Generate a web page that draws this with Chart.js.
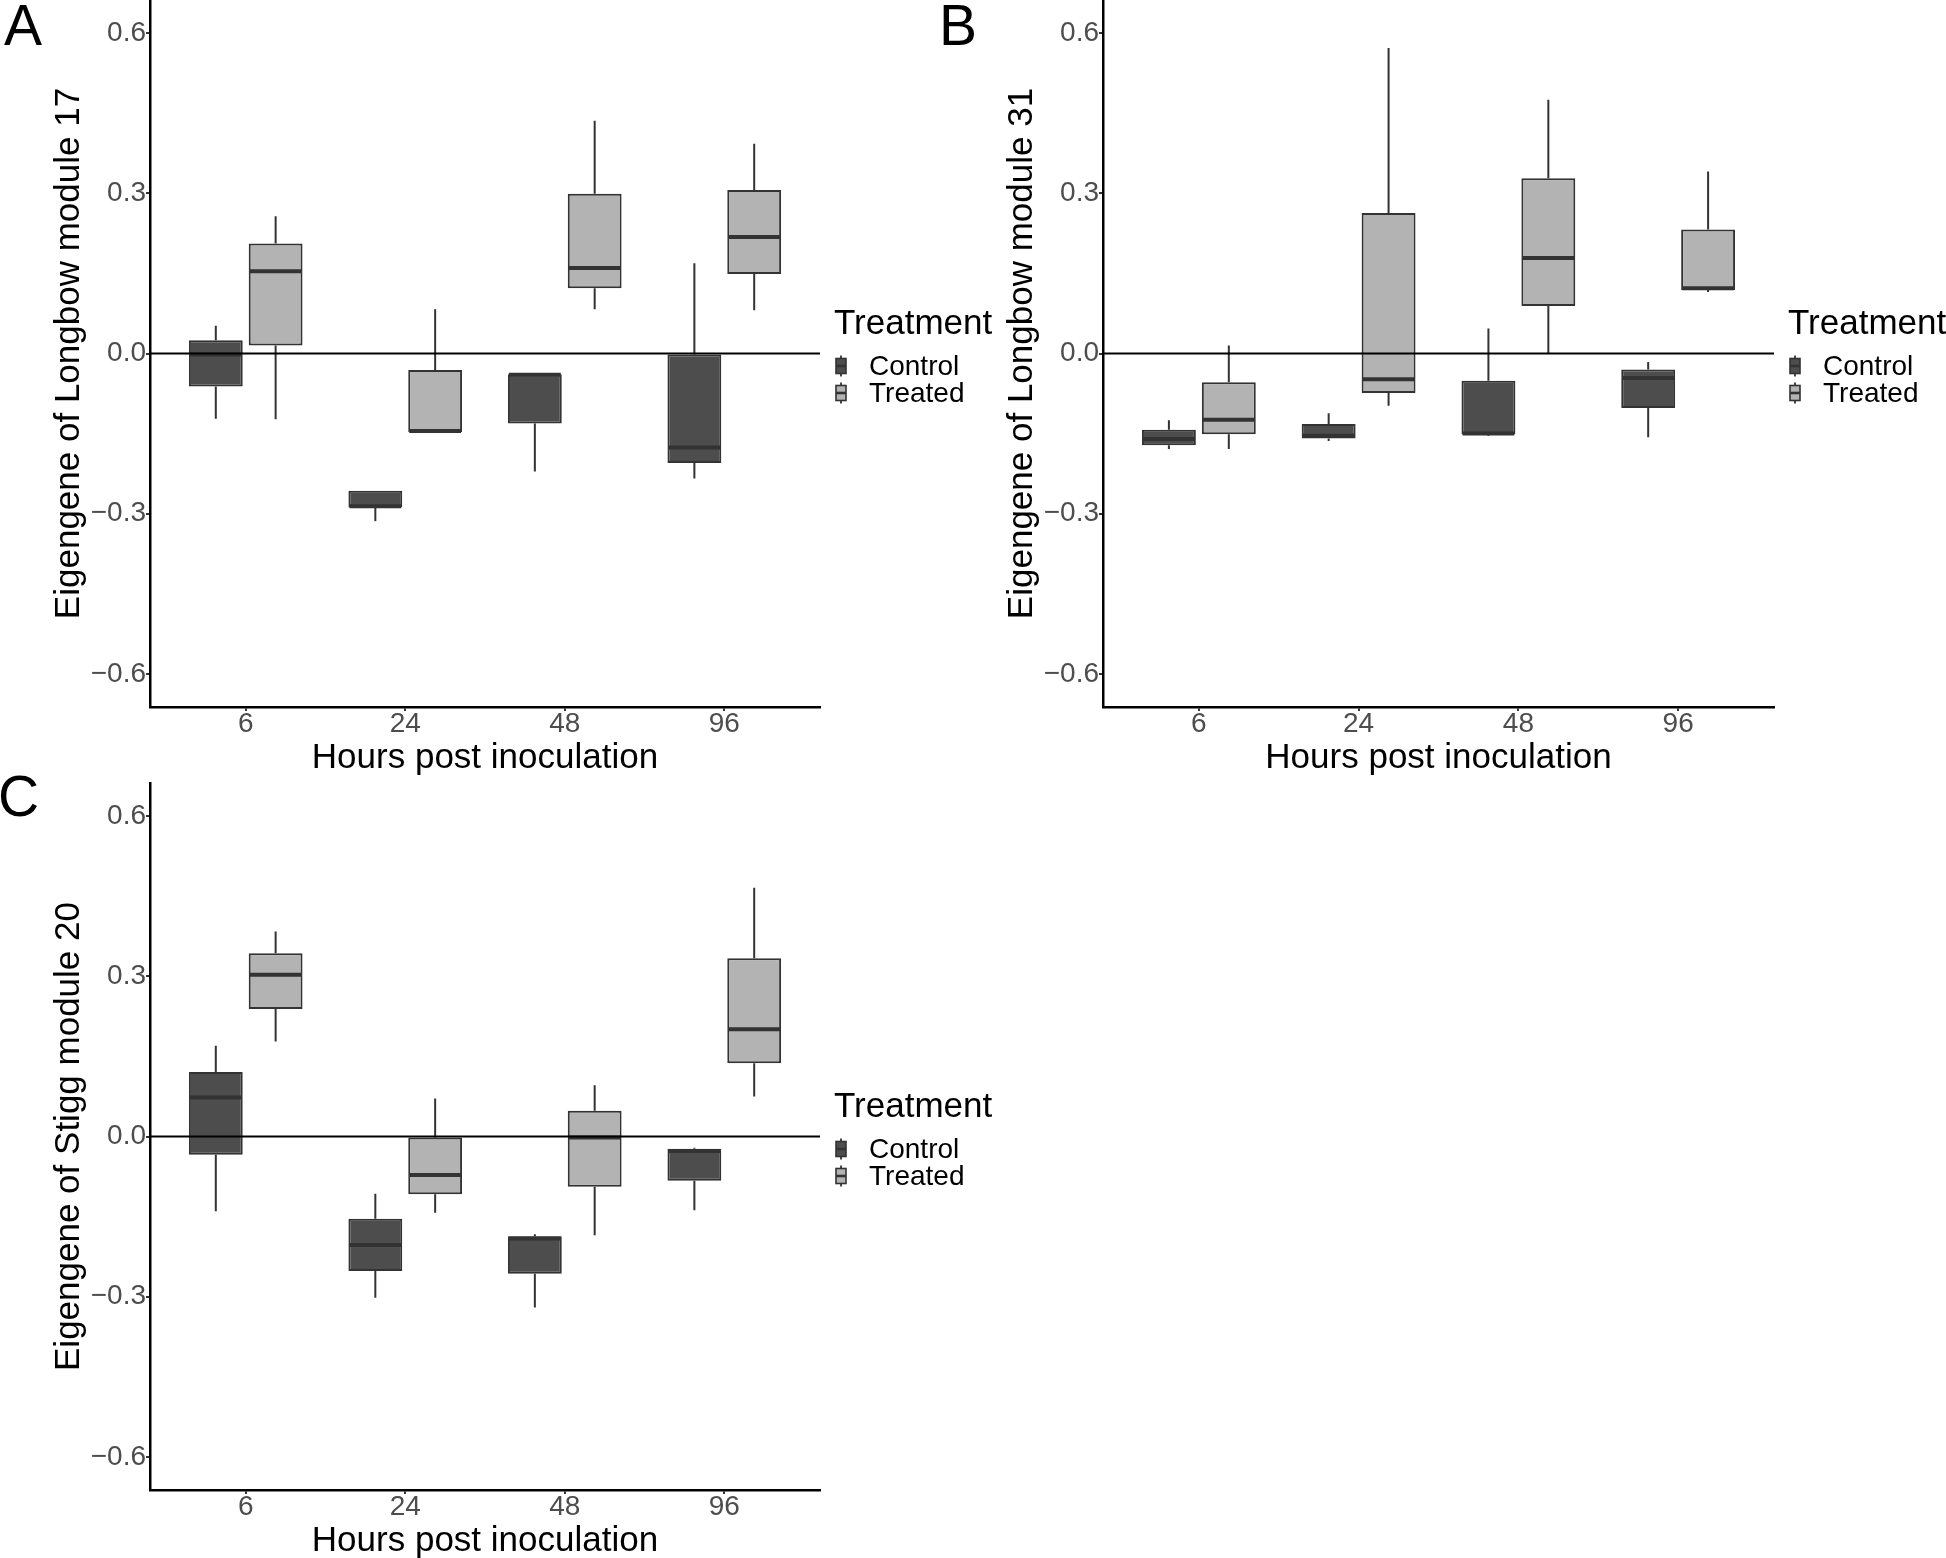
<!DOCTYPE html>
<html>
<head>
<meta charset="utf-8">
<title>Module eigengenes by hours post inoculation</title>
<script src="https://cdn.jsdelivr.net/npm/chart.js"></script>
<style>
    body { margin: 0; padding: 0; background: #fff; }
    #page {
        position: relative;
        width: 1946px;
        height: 1558px;
        background: #fff;
        overflow: hidden;
        font-family: "Liberation Sans", Arial, sans-serif;
        color: #000;
    }
    canvas { position: absolute; }
    .tag { position: absolute; font-size: 57px; line-height: 57px; }
    .leg-title { position: absolute; font-size: 35px; line-height: 35px; white-space: nowrap; }
    .leg-label { position: absolute; font-size: 28px; line-height: 28px; white-space: nowrap; }
    .leg-key { position: absolute; }
</style>
</head>
<body>
<div id="page">
    <canvas id="chartA" width="1000" height="780"></canvas>
    <canvas id="chartB" width="986" height="780"></canvas>
    <canvas id="chartC" width="1000" height="788"></canvas>
    <div class="tag" style="left:4px; top:-3px;">A</div>
    <div class="tag" style="left:939px; top:-3px;">B</div>
    <div class="tag" style="left:-2px; top:768px;">C</div>
</div>

<script>
    // x categories and y ticks
    var hours = ['6', '24', '48', '96'];
    var yTicks = [-0.6, -0.3, 0, 0.3, 0.6];
    var groups = ['Control', 'Treated'];

    // each entry: [lower whisker, Q1, median, Q3, upper whisker]
    var longbow17Control = [
        [-0.122, -0.062, -0.002, 0.025, 0.052],
        [-0.314, -0.288, -0.286, -0.257, -0.257],
        [-0.221, -0.131, -0.040, -0.039, -0.039],
        [-0.234, -0.205, -0.176, -0.002, 0.169]
    ];
    var longbow17Treated = [
        [-0.123, 0.015, 0.154, 0.206, 0.257],
        [-0.147, -0.147, -0.145, -0.031, 0.083],
        [0.083, 0.122, 0.160, 0.299, 0.436],
        [0.081, 0.149, 0.218, 0.306, 0.393]
    ];
    var longbow31Control = [
        [-0.179, -0.172, -0.160, -0.143, -0.125],
        [-0.164, -0.159, -0.154, -0.132, -0.112],
        [-0.154, -0.151, -0.150, -0.051, 0.047],
        [-0.157, -0.102, -0.046, -0.030, -0.016]
    ];
    var longbow31Treated = [
        [-0.179, -0.151, -0.124, -0.054, 0.015],
        [-0.098, -0.074, -0.048, 0.263, 0.572],
        [0.000, 0.089, 0.179, 0.328, 0.475],
        [0.115, 0.119, 0.122, 0.232, 0.341]
    ];
    var stigg20Control = [
        [-0.140, -0.034, 0.073, 0.121, 0.170],
        [-0.302, -0.252, -0.203, -0.154, -0.107],
        [-0.320, -0.257, -0.191, -0.187, -0.183],
        [-0.138, -0.083, -0.027, -0.023, -0.021]
    ];
    var stigg20Treated = [
        [0.178, 0.239, 0.303, 0.343, 0.384],
        [-0.143, -0.108, -0.072, -0.002, 0.071],
        [-0.185, -0.094, -0.002, 0.048, 0.096],
        [0.075, 0.137, 0.201, 0.334, 0.466]
    ];

    var fills = ['#4d4d4d', '#b3b3b3'];
    var outline = '#333333';
    var tickGrey = '#4d4d4d';

    Chart.defaults.font.family = '"Liberation Sans", Arial, sans-serif';

    // whiskers under the boxes, medians and the zero line on top
    var boxParts = {
        id: 'boxParts',
        beforeDatasetsDraw: function(chart) {
            var ctx = chart.ctx, y = chart.scales.y;
            ctx.save();
            ctx.strokeStyle = outline;
            ctx.lineWidth = 2;
            chart.data.datasets.forEach(function(ds, d) {
                chart.getDatasetMeta(d).data.forEach(function(bar, i) {
                    var s = ds.stats[i];
                    ctx.beginPath();
                    ctx.moveTo(bar.x, y.getPixelForValue(s[4]));
                    ctx.lineTo(bar.x, y.getPixelForValue(s[3]));
                    ctx.moveTo(bar.x, y.getPixelForValue(s[1]));
                    ctx.lineTo(bar.x, y.getPixelForValue(s[0]));
                    ctx.stroke();
                });
            });
            ctx.restore();
        },
        afterDatasetsDraw: function(chart) {
            var ctx = chart.ctx, y = chart.scales.y, area = chart.chartArea;
            ctx.save();
            ctx.strokeStyle = outline;
            ctx.lineWidth = 4;
            chart.data.datasets.forEach(function(ds, d) {
                chart.getDatasetMeta(d).data.forEach(function(bar, i) {
                    var p = bar.getProps(['x', 'width'], true);
                    var ym = y.getPixelForValue(ds.stats[i][2]);
                    ctx.beginPath();
                    ctx.moveTo(p.x - p.width / 2 + 1, ym);
                    ctx.lineTo(p.x + p.width / 2 - 1, ym);
                    ctx.stroke();
                });
            });
            ctx.strokeStyle = '#000';
            ctx.lineWidth = 2.2;
            var y0 = y.getPixelForValue(0);
            ctx.beginPath();
            ctx.moveTo(area.left, y0);
            ctx.lineTo(area.right, y0);
            ctx.stroke();
            ctx.restore();
        }
    };

    function makeDataset(name, stats, k) {
        return {
            label: name,
            stats: stats,
            data: stats.map(function(s, i) { return { x: i + 1, y: [s[1], s[3]] }; }),
            backgroundColor: fills[k],
            borderColor: outline,
            borderWidth: 2,
            borderSkipped: false,
            categoryPercentage: 0.75,
            barPercentage: 0.9
        };
    }

    function formatTick(v) {
        if (v === 0) return '0.0';
        return (v < 0 ? '\u2212' : '') + Math.abs(v).toFixed(1);
    }

    function addLegend(box) {
        var page = document.getElementById('page');
        var x0 = box.axisRight;
        var cy = (box.plotTop + box.plotBottom) / 2;

        var t = document.createElement('div');
        t.className = 'leg-title';
        t.textContent = 'Treatment';
        t.style.left = (x0 + 14) + 'px';
        t.style.top = (cy - 49.9) + 'px';
        page.appendChild(t);

        groups.forEach(function(g, k) {
            var keyY = cy + 12.3 + k * 27;
            var key = document.createElement('div');
            key.className = 'leg-key';
            key.style.left = (x0 + 21 - 7) + 'px';
            key.style.top = (keyY - 12) + 'px';
            key.innerHTML =
                '<svg width="14" height="24" xmlns="http://www.w3.org/2000/svg">' +
                '<line x1="7" y1="1.5" x2="7" y2="22.5" stroke="' + outline + '" stroke-width="1.8"/>' +
                '<rect x="2" y="4.5" width="10" height="15" fill="' + fills[k] + '" stroke="' + outline + '" stroke-width="1.6"/>' +
                '<line x1="2" y1="12" x2="12" y2="12" stroke="' + outline + '" stroke-width="2.6"/>' +
                '</svg>';
            page.appendChild(key);

            var lab = document.createElement('div');
            lab.className = 'leg-label';
            lab.textContent = g;
            lab.style.left = (x0 + 49) + 'px';
            lab.style.top = (keyY - 13.7) + 'px';
            page.appendChild(lab);
        });
    }

    function makePanel(id, box, yTitle, control, treated) {
        var canvas = document.getElementById(id);
        canvas.style.left = box.canvasLeft + 'px';
        canvas.style.top = box.canvasTop + 'px';

        var yWidth = box.axisLeft - box.canvasLeft;
        var xHeight = box.canvasTop + box.height - box.plotBottom;
        var yTitlePad = (box.axisLeft - 81) - box.canvasLeft - 17.5;
        var xTitlePad = box.canvasTop + box.height - (box.plotBottom + 51) - 17.5;

        new Chart(canvas, {
            type: 'bar',
            data: {
                datasets: [
                    makeDataset('Control', control, 0),
                    makeDataset('Treated', treated, 1)
                ]
            },
            options: {
                responsive: false,
                animation: false,
                devicePixelRatio: 1,
                layout: {
                    padding: {
                        left: 0,
                        top: box.plotTop - box.canvasTop,
                        right: box.canvasLeft + box.width - box.axisRight,
                        bottom: 0
                    }
                },
                plugins: {
                    legend: { display: false },
                    tooltip: { enabled: false }
                },
                scales: {
                    x: {
                        type: 'linear',
                        min: 0.4,
                        max: 4.6,
                        offset: false,
                        afterBuildTicks: function(s) {
                            s.ticks = hours.map(function(h, i) { return { value: i + 1 }; });
                        },
                        afterFit: function(s) {
                            s.height = xHeight;
                            s.paddingLeft = 0;
                            s.paddingRight = 0;
                        },
                        ticks: {
                            callback: function(v) { return hours[Math.round(v) - 1]; },
                            color: tickGrey,
                            font: { size: 28, lineHeight: 0.8 },
                            padding: 2,
                            maxRotation: 0
                        },
                        grid: {
                            display: true,
                            offset: false,
                            drawOnChartArea: false,
                            drawTicks: true,
                            tickLength: 4,
                            color: outline,
                            lineWidth: 2
                        },
                        border: { display: true, color: '#000', width: 2.5 },
                        title: {
                            display: true,
                            text: 'Hours post inoculation',
                            color: '#000',
                            font: { size: 35, lineHeight: 1 },
                            padding: { top: 0, bottom: xTitlePad }
                        }
                    },
                    y: {
                        type: 'linear',
                        min: -0.662,
                        max: 0.662,
                        afterBuildTicks: function(s) {
                            s.ticks = yTicks.map(function(v) { return { value: v }; });
                        },
                        afterFit: function(s) {
                            s.width = yWidth;
                            s.paddingTop = 0;
                            s.paddingBottom = 0;
                        },
                        ticks: {
                            callback: formatTick,
                            color: tickGrey,
                            font: { size: 28 },
                            padding: 0
                        },
                        grid: {
                            display: true,
                            drawOnChartArea: false,
                            drawTicks: true,
                            tickLength: 4,
                            color: outline,
                            lineWidth: 2
                        },
                        border: { display: true, color: '#000', width: 2.5 },
                        title: {
                            display: true,
                            text: yTitle,
                            color: '#000',
                            font: { size: 35, lineHeight: 1 },
                            padding: { top: yTitlePad, bottom: 0 }
                        }
                    }
                }
            },
            plugins: [boxParts]
        });

        addLegend(box);
    }

    var boxA = { canvasLeft: 0, canvasTop: 0, width: 1000, height: 780, axisLeft: 150, axisRight: 820, plotTop: 0, plotBottom: 707 };
    var boxB = { canvasLeft: 960, canvasTop: 0, width: 986, height: 780, axisLeft: 1103, axisRight: 1774, plotTop: 0, plotBottom: 707 };
    var boxC = { canvasLeft: 0, canvasTop: 770, width: 1000, height: 788, axisLeft: 150, axisRight: 820, plotTop: 783, plotBottom: 1490 };

    makePanel('chartA', boxA, 'Eigengene of Longbow module 17', longbow17Control, longbow17Treated);
    makePanel('chartB', boxB, 'Eigengene of Longbow module 31', longbow31Control, longbow31Treated);
    makePanel('chartC', boxC, 'Eigengene of Stigg module 20', stigg20Control, stigg20Treated);
</script>
</body>
</html>
